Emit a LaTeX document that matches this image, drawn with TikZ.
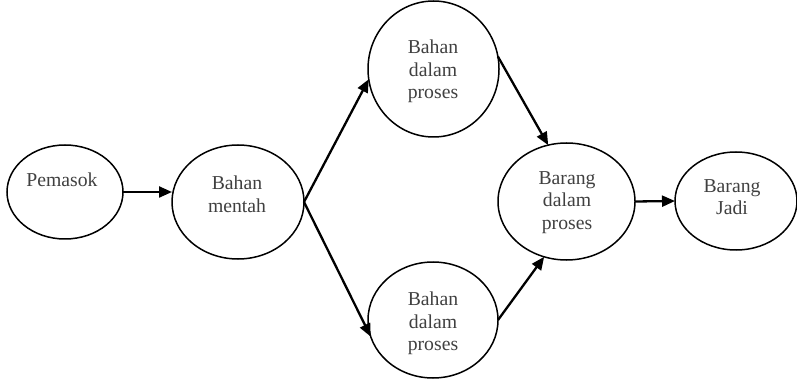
\documentclass[tikz,border=0pt]{standalone}
\usepackage{fontspec}
\setmainfont{Liberation Serif}
\usetikzlibrary{shapes.geometric,arrows.meta}

\begin{document}
\begin{tikzpicture}[x=1pt, y=-1pt,
		proc/.style={draw, ellipse, line width=1.5pt, inner sep=0pt, outer sep=0pt},
		txt/.style={align=center, text=black!75, font=\fontsize{19.7}{22.5}\selectfont},
		arr/.style={line width=2.3pt, -{Triangle[length=13pt,width=11pt]}}]
				\useasboundingbox (0,0) rectangle (797,379);

				% lingkaran
				\node[proc, minimum width=116, minimum height=94] (pemasok) at (65,192) {};
				\node[proc, minimum width=132, minimum height=114] (mentah) at (238,202) {};
				\node[proc, minimum width=131, minimum height=136] (atas) at (433.5,69) {};
				\node[proc, minimum width=130, minimum height=116] (bawah) at (433,320) {};
				\node[proc, minimum width=137, minimum height=117] (bdp) at (566.5,201.5) {};
				\node[proc, minimum width=122, minimum height=98] (jadi) at (736,201) {};

				% teks
				\node[txt] (pemasok-t) at (62,180) {Pemasok};
				\node[txt] (mentah-t) at (237,194.5) {Bahan\\mentah};
				\node[txt] (atas-t) at (433,71.5) {Bahan\\dalam\\proses};
				\node[txt] (bawah-t) at (433,323.5) {Bahan\\dalam\\proses};
				\node[txt] (bdp-t) at (567,202.5) {Barang\\dalam\\proses};
				\node[txt] (jadi-t) at (732,197) {Barang\\Jadi};

				% panah
				\draw[arr] (pemasok.east) -- (pemasok.east -| mentah.west);
				\draw[arr] (mentah.east) -- (atas.189);
				\draw[arr] (mentah.east) -- (bawah.195);
				\draw[arr] (atas.11) -- (bdp.108);
				\draw[arr] (bawah.east) -- (bdp.248);
				\draw[arr] (bdp.east) -- (jadi.west);

\end{tikzpicture}
\end{document}
